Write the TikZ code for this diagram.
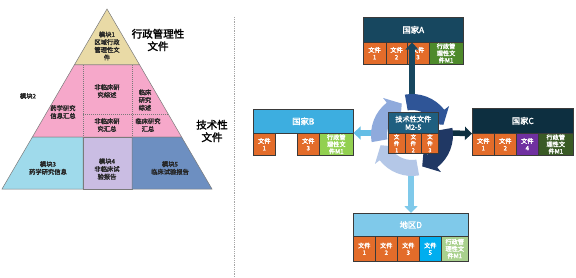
\documentclass[tikz,border=0pt]{standalone}
\usepackage{fontspec}
\setmainfont{Noto Sans CJK SC}[AutoFakeBold=2]
\usetikzlibrary{arrows.meta}
\definecolor{pyY}{HTML}{E9DAA6}
\definecolor{pyP}{HTML}{F6A8CA}
\definecolor{pyB}{HTML}{9FDAEB}
\definecolor{pyL}{HTML}{CABDE3}
\definecolor{pyS}{HTML}{6D8FC1}
\definecolor{pyO}{HTML}{7A7A7A}
\definecolor{hdrA}{HTML}{17475F}
\definecolor{hdrB}{HTML}{3DAEE0}
\definecolor{hdrC}{HTML}{0D2F40}
\definecolor{hdrD}{HTML}{7FC9EA}
\definecolor{hdrM}{HTML}{1F5F80}
\definecolor{orgC}{HTML}{E36C2A}
\definecolor{grA}{HTML}{4E8A2B}
\definecolor{grB}{HTML}{92D050}
\definecolor{grC}{HTML}{3A5A25}
\definecolor{grD}{HTML}{A9D18E}
\definecolor{purC}{HTML}{7030A0}
\definecolor{bluC}{HTML}{00AEEF}
\definecolor{rgTop}{HTML}{2F5597}
\definecolor{rgRight}{HTML}{203864}
\definecolor{rgBot}{HTML}{B4C7E7}
\definecolor{rgLeft}{HTML}{8FAADC}
\definecolor{linC}{HTML}{3A3A3A}
\newcommand\ringarr[3]{%
  \fill[#3] (#1:41) arc[start angle=#1, end angle=#2-20, radius=41] -- (#2-20:47) -- (#2:33) -- (#2-20:19) -- (#2-20:25) arc[start angle=#2-20, end angle=#1, radius=25] -- cycle;}
\tikzset{
  pytxt/.style={font=\fontsize{6.3}{7.7}\selectfont\bfseries, align=center, text=black!85, inner sep=0},
  bigtxt/.style={font=\fontsize{10.5}{12.5}\selectfont\bfseries, align=center, inner sep=0},
  hdr/.style={draw=linC, line width=0.6pt, text=white, font=\fontsize{8.3}{9}\selectfont\bfseries, align=center, anchor=north west, inner sep=0, minimum height=25pt},
  cell/.style={draw=linC, line width=0.6pt, text=white, font=\fontsize{6.2}{7}\selectfont\bfseries, align=center, anchor=north west, inner sep=0, minimum width=22pt, minimum height=22pt},
  mcell/.style={cell, fill=orgC, minimum height=20pt, font=\fontsize{5.6}{6.6}\selectfont\bfseries},
  bigarrow/.style={line width=5.5pt, -{Triangle[width=13pt,length=7pt]}},
}
\begin{document}
\begin{tikzpicture}[x=1pt,y=-1pt]
\useasboundingbox[fill=white] (0,0) rectangle (576,278);
% ---------------- pyramid ----------------
\begin{scope}[draw=pyO, line width=0.5pt]
\filldraw[fill=pyY] (107,9) -- (139.7,65) -- (74.3,65) -- cycle;
\filldraw[fill=pyP] (74.3,65) -- (139.7,65) -- (181.6,137) -- (32.4,137) -- cycle;
\filldraw[fill=pyB] (32.4,137) -- (83,137) -- (83,189) -- (2,189) -- cycle;
\filldraw[fill=pyL] (83,137) -- (132,137) -- (132,189) -- (83,189) -- cycle;
\filldraw[fill=pyS] (132,137) -- (181.6,137) -- (212,189) -- (132,189) -- cycle;
\draw[dash pattern=on 1pt off 1pt] (83,65) -- (83,137) (132,65) -- (132,137) (83,114) -- (168.2,114);
\end{scope}
\node[pytxt] (m1) at (107,46) {模块1\\区域行政\\管理性文\\件};
\node[pytxt] (m2) at (28,96) {模块2};
\node[pytxt] (p1) at (63,112) {药学研究\\信息汇总};
\node[pytxt] (p2) at (107,91) {非临床研\\究综述};
\node[pytxt] (p3) at (145,100) {临床\\研究\\综述};
\node[pytxt] (p4) at (107,125) {非临床研\\究汇总};
\node[pytxt] (p5) at (148,125) {临床研究\\汇总};
\node[pytxt] (m3) at (48,168) {模块3\\药学研究信息};
\node[pytxt] (m4) at (107,169) {模块4\\非临床试\\验报告};
\node[pytxt] (m5) at (170,168) {模块5\\临床试验报告};
\node[bigtxt] (adm) at (158,40) {行政管理性\\文件};
\node[bigtxt] (tec) at (212,131) {技术性\\文件};
% divider
\draw[gray!70, dash pattern=on 1pt off 0.8pt, line width=0.9pt] (234,17) -- (234,278);
% ---------------- boxes ----------------
\node[hdr, fill=hdrA, minimum width=100pt] (A) at (363,17) {国家A};
\node[cell, fill=orgC, minimum width=22.5pt] (A1) at (363,42) {文件\\1};
\node[cell, fill=orgC, minimum width=21.5pt] (A2) at (385.5,42) {文件\\2};
\node[cell, fill=orgC, minimum width=21.5pt] (A3) at (407,42) {文件\\3};
\node[cell, fill=grA, minimum width=34.5pt] (A4) at (428.5,42) {行政管\\理性文\\件M1};

\node[hdr, fill=hdrB, minimum width=100pt, minimum height=24pt] (B) at (253,109) {国家B};
\node[cell, fill=orgC] (B1) at (253,133) {文件\\1};
\node[cell, fill=orgC] (B3) at (297,133) {文件\\3};
\node[cell, fill=grB, minimum width=34pt] (B4) at (319,133) {行政管\\理性文\\件M1};

\node[hdr, fill=hdrC, minimum width=101pt, minimum height=25pt] (C) at (472,108) {国家C};
\node[cell, fill=orgC] (C1) at (472,133) {文件\\1};
\node[cell, fill=orgC] (C2) at (494,133) {文件\\2};
\node[cell, fill=purC] (C4) at (516,133) {文件\\4};
\node[cell, fill=grC, minimum width=35pt] (C5) at (538,133) {行政管\\理性文\\件M1};

\node[hdr, fill=hdrD, minimum width=115pt, minimum height=23pt] (D) at (353,213) {地区D};
\node[cell, fill=orgC, minimum height=25pt] (D1) at (353,236) {文件\\1};
\node[cell, fill=orgC, minimum height=25pt] (D2) at (375,236) {文件\\2};
\node[cell, fill=orgC, minimum height=25pt] (D3) at (397,236) {文件\\3};
\node[cell, fill=bluC, minimum height=25pt] (D5) at (419,236) {文件\\5};
\node[cell, fill=grD, minimum width=27pt, minimum height=25pt] (D6) at (441,236) {行政管\\理性文\\件M1};

% ---------------- arrows ----------------
\coordinate (ctr) at (412,135);
\coordinate (toA) at (412,98);
\coordinate (toB) at (373,133);
\coordinate (toC) at (451,133);
\coordinate (toD) at (411,172);
\draw[bigarrow, hdrA] (toA) -- (A.south -| toA);
\draw[bigarrow, hdrB!80] (toB) -- (B4.north east);
\draw[bigarrow, hdrC] (toC) -- (C.south west);
\draw[bigarrow, hdrD] (toD) -- (D.north -| toD);

% ---------------- ring ----------------
\begin{scope}[shift={(ctr)}]
\ringarr{-190}{-108}{rgLeft}
\ringarr{-100}{-18}{rgTop}
\ringarr{-10}{72}{rgRight}
\ringarr{80}{162}{rgBot}
\end{scope}

% center box
\node[hdr, fill=hdrM, minimum width=50pt, minimum height=21pt, font=\fontsize{7.2}{8}\selectfont\bfseries] (M) at (388,112) {技术性文件\\M2-5};
\node[mcell, minimum width=16.7pt] (M1) at (388,133) {文\\件\\1};
\node[mcell, minimum width=16.7pt] (M2) at (404.7,133) {文\\件\\2};
\node[mcell, minimum width=16.6pt] (M3) at (421.4,133) {文\\件\\3};
\end{tikzpicture}
\end{document}
